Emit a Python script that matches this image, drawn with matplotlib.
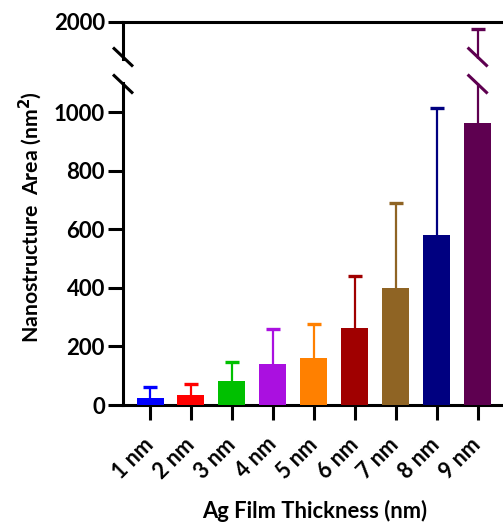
import numpy as np
import matplotlib.pyplot as plt
from matplotlib.lines import Line2D

plt.rcParams['font.family'] = ['Lato', 'DejaVu Sans']
plt.rcParams['font.weight'] = 'bold'

# data
labels = ['1 nm', '2 nm', '3 nm', '4 nm', '5 nm', '6 nm', '7 nm', '8 nm', '9 nm']
means = [25, 33, 82, 139, 160, 263, 400, 580, 965]
sd = [38, 38, 64, 121, 117, 178, 290, 435, 1005]
colors = ['#0000ff', '#ff0000', '#00c000', '#aa10e0', '#ff8000',
          '#a00000', '#8f6424', '#000080', '#5e0050']

W, H = 503, 525
fig = plt.figure(figsize=(W / 100, H / 100), dpi=100)

def px_box(x0, y0, x1, y1):
    # pixel box (top-left origin) -> figure fraction [l, b, w, h]
    return [x0 / W, 1 - y1 / H, (x1 - x0) / W, (y1 - y0) / H]

ax = fig.add_axes(px_box(123, 83, 503, 405))
axt = fig.add_axes(px_box(123, 22, 503, 59), sharex=ax)

x = np.arange(len(labels))
lw = 2.2

for a in (ax, axt):
    a.bar(x, means, width=0.66, color=colors, zorder=3)
    tops = np.array(means) + np.array(sd)
    a.vlines(x, means, tops, colors=colors, linewidth=1.6, zorder=2)
    a.hlines(tops, x - 0.17, x + 0.17, colors=colors, linewidth=2.4, zorder=2)
    a.spines['right'].set_visible(False)
    for s in a.spines.values():
        s.set_linewidth(lw)
    a.tick_params(width=lw, length=11, direction='out', labelsize=16, pad=2)

ax.set_xlim(-0.66, 8.62)
ax.set_ylim(0, 1100)
ax.spines['top'].set_visible(False)
ax.set_yticks([0, 200, 400, 600, 800, 1000])
ax.set_xticks(x)
ax.set_xticklabels(labels, rotation=45, ha='right', va='center',
                   rotation_mode='anchor')
ax.tick_params(axis='x', pad=15, labelsize=15.5)

axt.set_ylim(1850, 2000)
axt.spines['bottom'].set_visible(False)
axt.set_yticks([2000])
axt.tick_params(axis='x', bottom=False, labelbottom=False)

# break marks on the axis and on the 9 nm error bar
def slash(a, xv, yv, color):
    fx, fy = fig.transFigure.inverted().transform(a.transData.transform((xv, yv)))
    dx, dy = 10 / W, 9.5 / H
    fig.add_artist(Line2D([fx - dx, fx + dx], [fy + dy, fy - dy], color=color,
                          linewidth=lw, solid_capstyle='butt'))

slash(axt, -0.66, 1850 + 150 * 2 / 37, 'black')
slash(ax, -0.66, 1100 - 1100 * 1 / 322, 'black')
slash(axt, 8, 1850 + 150 * 2 / 37, colors[8])
slash(ax, 8, 1100 - 1100 * 1 / 322, colors[8])

fig.text(30 / W, 1 - 217 / H, 'Nanostructure  Area (nm$^\\mathbf{2}$)', rotation=90,
         ha='center', va='center', fontsize=15.3, fontweight='bold')
fig.text(315 / W, 1 - 511 / H, 'Ag Film Thickness (nm)', ha='center', va='center',
         fontsize=15.8, fontweight='bold')

plt.savefig('out.png', dpi=100)
